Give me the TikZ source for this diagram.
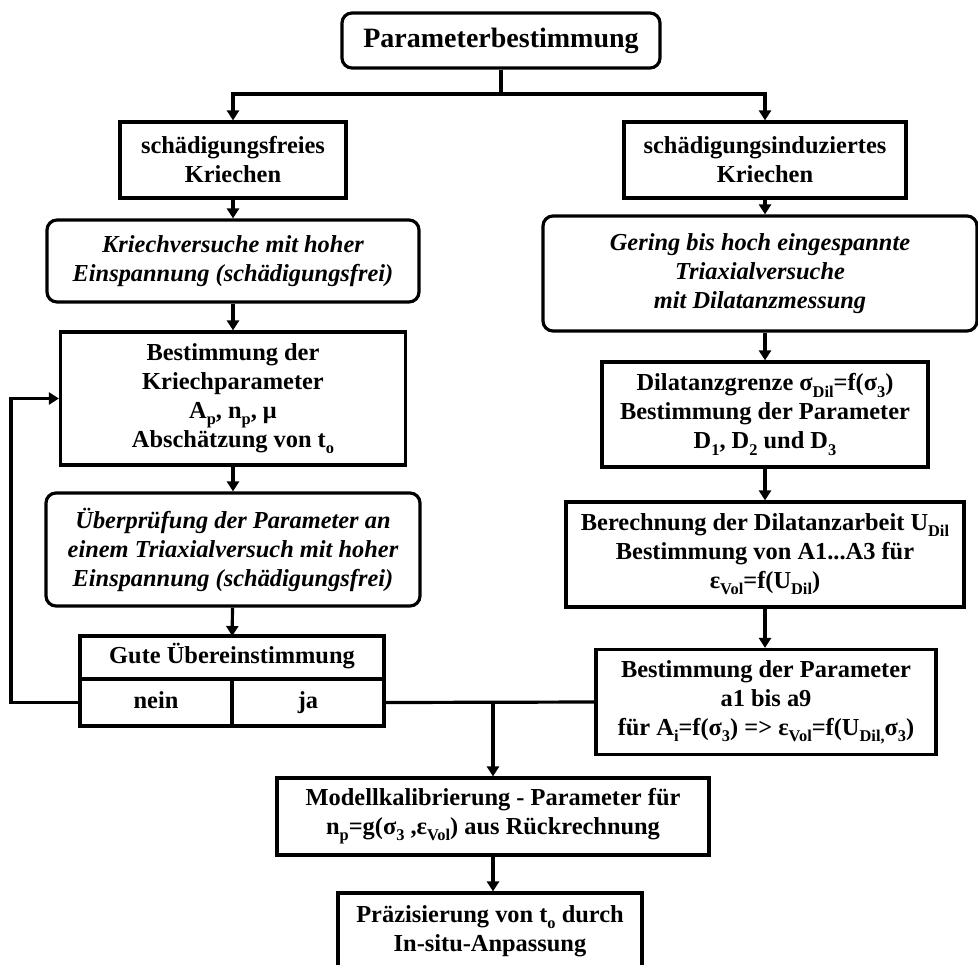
\documentclass[tikz,border=0pt]{standalone}
\usepackage{fontspec}
\setmainfont{Liberation Serif}
\usetikzlibrary{arrows.meta}

\newcommand{\idx}[1]{\raisebox{-0.55ex}{\fontsize{8.2}{8.2}\selectfont #1}}

\tikzset{
  box/.style={draw, line width=1.6pt, align=center, inner sep=2pt,
    font=\fontsize{12.2}{14.5}\selectfont\bfseries},
  roundbox/.style={box, rounded corners=5pt, font=\fontsize{12.2}{14.5}\selectfont\bfseries\itshape},
  cell/.style={box, outer sep=0pt, text height=9pt, text depth=3pt},
  link/.style={line width=1.6pt},
  arr/.style={link, -{Triangle[length=5pt,width=6pt]}}
}

\begin{document}
\begin{tikzpicture}[x=0.5pt, y=-0.5pt]
        \useasboundingbox (0,0) rectangle (978,964);

        \node[box, rounded corners=5pt, font=\fontsize{14}{16}\selectfont\bfseries,
          minimum width=159pt, minimum height=27.5pt] (top) at (501,40.5) {Parameterbestimmung};

        \node[box, minimum width=113pt, minimum height=38pt] (sf) at (233,160) {schädigungsfreies\\Kriechen};
        \node[box, minimum width=141pt, minimum height=38pt] (si) at (765,160) {schädigungsinduziertes\\Kriechen};

        \node[roundbox, minimum width=186pt, minimum height=41pt] (kv) at (233,261)
          {Kriechversuche mit hoher\\Einspannung (schädigungsfrei)};
        \node[roundbox, minimum width=217pt, minimum height=57.5pt] (gb) at (760,273.5)
          {Gering bis hoch eingespannte\\Triaxialversuche\\mit Dilatanzmessung};

        \node[box, minimum width=172.5pt, minimum height=66.5pt] (kp) at (233,398.5)
          {Bestimmung der\\Kriechparameter\\A\idx{p}, n\idx{p}, μ\\Abschätzung von t\idx{o}};
        \node[box, minimum width=163pt, minimum height=52.5pt] (dg) at (765,414.5)
          {Dilatanzgrenze σ\idx{Dil}=f(σ\idx{3})\\Bestimmung der Parameter\\D\idx{1}, D\idx{2} und D\idx{3}};

        \node[roundbox, minimum width=187pt, minimum height=56.5pt] (ue) at (233,549.5)
          {Überprüfung der Parameter an\\einem Triaxialversuch mit hoher\\Einspannung (schädigungsfrei)};
        \node[box, minimum width=199pt, minimum height=52.5pt] (bd) at (765,554.5)
          {Berechnung der Dilatanzarbeit U\idx{Dil}\\Bestimmung von A1...A3 für\\ε\idx{Vol}=f(U\idx{Dil})};

        \node[cell, minimum width=152pt, minimum height=21.5pt] (gu) at (232,657.5) {Gute Übereinstimmung};
        \node[cell, minimum width=76pt, minimum height=23.5pt, anchor=north east] (nein) at (gu.south) {nein};
        \node[cell, minimum width=76pt, minimum height=23.5pt, anchor=north west] (ja) at (gu.south) {ja};

        \node[box, minimum width=170pt, minimum height=52.5pt] (pa) at (766,702)
          {Bestimmung der Parameter\\a1 bis a9\\für A\idx{i}=f(σ\idx{3}) => ε\idx{Vol}=f(U\idx{Dil,}σ\idx{3})};

        \node[box, minimum width=216pt, minimum height=38.5pt] (mk) at (493,816.5)
          {Modellkalibrierung - Parameter für\\n\idx{p}=g(σ\idx{3} ,ε\idx{Vol}) aus Rückrechnung};
        \node[box, minimum width=152pt, minimum height=38pt] (pz) at (490,931)
          {Präzisierung von t\idx{o} durch\\In-situ-Anpassung};

        \coordinate (fork) at (501,94);
        \coordinate (join) at (493,702);

        \draw[link] (top) -- (fork);
        \draw[arr] (fork) -| (sf);
        \draw[arr] (fork) -| (si);

        \draw[arr] (sf) -- (kv);
        \draw[arr] (kv) -- (kp);
        \draw[arr] (kp) -- (ue);
        \draw[arr] (ue) -- (gu);
        \draw[arr] (nein.west) -- ++(-69,0) |- (kp.west);

        \draw[arr] (si.south) -- (si.south |- gb.north);
        \draw[arr] (dg.north |- gb.south) -- (dg.north);
        \draw[arr] (dg) -- (bd);
        \draw[arr] (bd.south) -- (bd.south |- pa.north);

        \draw[link] (ja.east) -- (pa.west);
        \draw[arr] (join) -- (join |- mk.north);
        \draw[arr] (mk.south) -- (mk.south |- pz.north);
    \end{tikzpicture}
\end{document}
